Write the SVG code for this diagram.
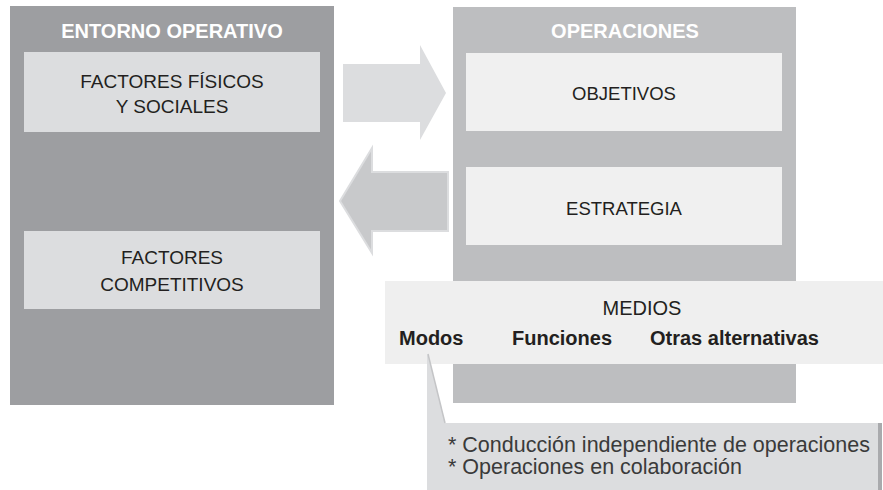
<svg xmlns="http://www.w3.org/2000/svg" width="883" height="490" viewBox="0 0 883 490">
<style>
.t{font-family:"Liberation Sans",Arial,sans-serif;fill:#231f20;text-anchor:middle}
.h{font-family:"Liberation Sans",Arial,sans-serif;font-weight:bold;fill:#ffffff;text-anchor:middle;font-size:20px}
.b{font-family:"Liberation Sans",Arial,sans-serif;font-weight:bold;fill:#231f20;font-size:20px}
.c{font-family:"Liberation Sans",Arial,sans-serif;fill:#3a3a3a;font-size:21.5px}
</style>
<rect width="883" height="490" fill="#ffffff"/>
<g id="entorno">
<rect x="10" y="6" width="324" height="399" fill="#9d9ea1"/>
<text class="h" x="172" y="38">ENTORNO OPERATIVO</text>
</g>
<g id="factores-fisicos">
<rect x="24" y="52" width="296" height="80" fill="#dcdddf"/>
<text class="t" x="172" y="88" font-size="19">FACTORES FÍSICOS</text>
<text class="t" x="172" y="113" font-size="19">Y SOCIALES</text>
</g>
<g id="factores-competitivos">
<rect x="24" y="231" width="296" height="78" fill="#dcdddf"/>
<text class="t" x="172" y="264" font-size="19">FACTORES</text>
<text class="t" x="172" y="291" font-size="19">COMPETITIVOS</text>
</g>
<g id="operaciones">
<rect x="453" y="7" width="343" height="396" fill="#bdbec0"/>
<text class="h" x="625" y="38">OPERACIONES</text>
</g>
<g id="objetivos">
<rect x="466" y="53" width="316" height="78" fill="#f0f0f0"/>
<text class="t" x="624" y="100" font-size="18.5">OBJETIVOS</text>
</g>
<g id="estrategia">
<rect x="466" y="167" width="316" height="78" fill="#f0f0f0"/>
<text class="t" x="624" y="215" font-size="18.5">ESTRATEGIA</text>
</g>
<g id="connectors">
<polygon points="343,64 420,64 420,45 446,93 420,140 420,122 343,122" fill="#dcdddf"/>
<polygon points="448,172 372,172 372,148 340,201 372,253 372,231 448,231" fill="#c8c9cb" stroke="#dcdddf" stroke-width="2"/>
</g>
<g id="medios">
<rect x="385" y="281" width="498" height="83" fill="#efefef"/>
<text class="t" x="642" y="315" font-size="20">MEDIOS</text>
<text class="b" x="399" y="345">Modos</text>
<text class="b" x="512" y="345">Funciones</text>
<text class="b" x="650" y="345">Otras alternativas</text>
</g>
<g id="modos-detalle">
<polygon points="428,354 445,423 878,423 878,490 427,490 427,356" fill="#dcdddf"/>
<line x1="428" y1="354" x2="445" y2="423" stroke="#c4c5c7" stroke-width="1.5"/>
<rect x="878" y="423" width="4" height="67" fill="#a9aaad"/>
<text class="c" x="448" y="452">* Conducción independiente de operaciones</text>
<text class="c" x="448" y="474">* Operaciones en colaboración</text>
</g>
</svg>
